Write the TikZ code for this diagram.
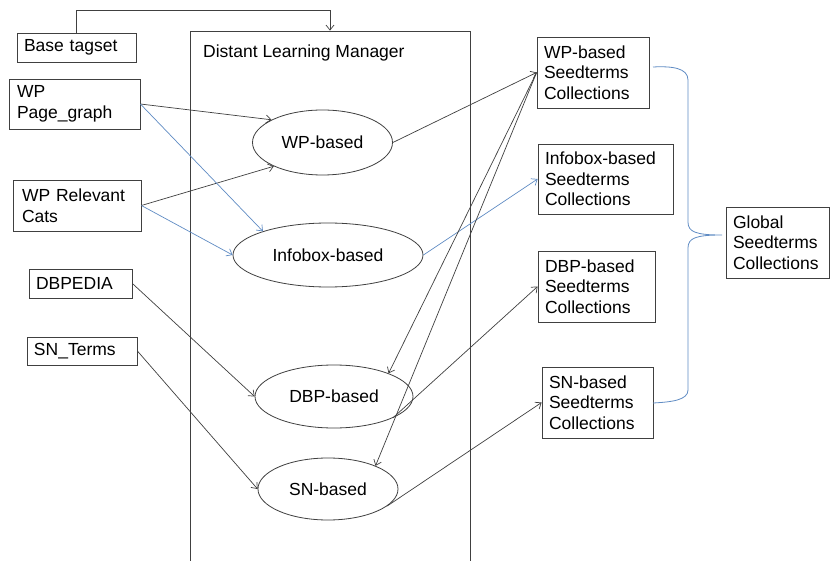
\documentclass[tikz,border=0pt]{standalone}
\usepackage{fontspec}
\setmainfont{Liberation Sans}
\usetikzlibrary{shapes.geometric,arrows.meta}
\definecolor{lnk}{RGB}{64,64,64}
\definecolor{blu}{RGB}{96,140,196}
\begin{document}
\begin{tikzpicture}[x=1pt, y=-1pt,
  box/.style={draw=lnk, line width=0.8pt, align=left, inner xsep=7pt, inner ysep=3pt, font=\fontsize{17.5}{20.5}\selectfont},
  ell/.style={draw=lnk, line width=0.8pt, ellipse, inner sep=0pt, font=\fontsize{17.5}{20.5}\selectfont},
  arr/.style={draw=lnk, line width=0.7pt, -{Straight Barb[length=5pt,width=8pt]}},
  barr/.style={draw=blu, line width=0.7pt, -{Straight Barb[length=5pt,width=8pt]}}]
\useasboundingbox (0,0) rectangle (830,561);
\clip (0,0) rectangle (830,561);
\fill[white] (0,0) rectangle (830,561);
\node[draw=lnk, line width=0.8pt, minimum width=280pt, minimum height=560pt] (dlm) at (330,311){};
\node[anchor=base west, inner sep=0pt, font=\fontsize{17.5}{20.5}\selectfont] (dlmt) at (203,58){Distant Learning Manager};
\node[box, text width=105pt, minimum height=29pt] (base) at (76.5,47.5){Base tagset};
\node[box, text width=115pt, inner xsep=8pt, minimum height=50pt] (pg) at (74.5,104){WP\\Page\_graph};
\node[box, text width=110pt, inner xsep=9pt, minimum height=51pt] (rc) at (77,205.5){WP Relevant\\Cats};
\node[box, text width=89pt, minimum height=29pt] (dbp) at (80.5,283.5){DBPEDIA};
\node[box, text width=96pt, minimum height=28pt] (snt) at (82,351){SN\_Terms};
\node[ell, minimum width=140pt, minimum height=65pt] (wpb) at (322.5,142.5){WP-based};
\node[ell, minimum width=190pt, minimum height=64pt] (ibb) at (328,255){Infobox-based};
\node[ell, minimum width=158pt, minimum height=63pt] (dbb) at (334,396.5){DBP-based};
\node[ell, minimum width=140pt, minimum height=62pt] (snb) at (328,489){SN-based};
\node[box, text width=98pt, minimum height=71pt] (wpc) at (593,72.5){WP-based\\Seedterms\\Collections};
\node[box, text width=121pt, minimum height=70pt] (ibc) at (605.5,179){Infobox-based\\Seedterms\\Collections};
\node[box, text width=103pt, minimum height=71pt] (dbc) at (596.5,286.5){DBP-based\\Seedterms\\Collections};
\node[box, text width=97pt, minimum height=71pt] (snc) at (597.5,402.5){SN-based\\Seedterms\\Collections};
\node[box, text width=89pt, minimum height=71pt] (glob) at (777.5,242.5){Global\\Seedterms\\Collections};
\draw[arr] (base.north) -- ++(0,-22) -| (dlm.north);
\draw[arr] (pg.east) -- (wpb.156);
\draw[arr] (rc.east) -- (wpb.206);
\draw[barr] (pg.east) -- (ibb.160);
\draw[barr] (rc.east) -- (ibb.west);
\draw[arr] (dbp.east) -- (dbb.west);
\draw[arr] (snt.east) -- (snb.west);
\draw[arr] (wpb.east) -- (wpc.west);
\draw[barr] (ibb.east) -- (ibc.west);
\draw[arr] (dbb.340) -- (dbc.west);
\draw[arr] (snb.344) -- (snc.west);
\draw[arr] (wpc.west) -- (dbb.23);
\draw[arr] (wpc.west) -- (snb.26);
\coordinate (tip) at (722,235);
\draw[blu, line width=0.8pt] (653,67) .. controls (672,66) and (688,68) .. (688,80) -- (688,222)
  .. controls (688,232) and (696,235) .. (tip)
  .. controls (696,235) and (688,238) .. (688,248) -- (688,390)
  .. controls (688,400) and (672,402) .. (653,403);
\end{tikzpicture}
\end{document}
